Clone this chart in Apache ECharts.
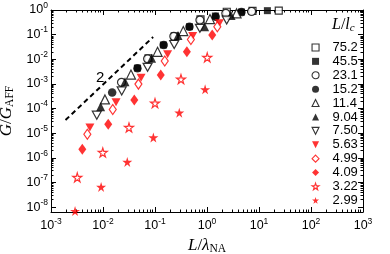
<!DOCTYPE html>
<html><head><meta charset="utf-8">
<script src="https://cdn.jsdelivr.net/npm/echarts@6/dist/echarts.min.js"></script>
<style>html,body{margin:0;padding:0;background:#fff}#c{width:390px;height:254px}</style>
</head><body><div id="c"></div>
<script>
// ---- data ----
const seriesNames = ['75.2','45.5','23.1','15.2','11.4','9.04','7.50','5.63','4.99','4.09','3.22','2.99'];
const x75_2 = [0.075, 0.24, 0.75, 2.4, 7.5, 24];
const y75_2 = [1.1e-2, 8.5e-2, 0.42, 0.85, 0.92, 0.94];
const x45_5 = [0.046, 0.145, 0.46, 1.45, 4.6, 14.5];
const y45_5 = [4.4e-3, 3.8e-2, 0.21, 0.57, 0.83, 0.94];
const x23_1 = [0.0227, 0.072, 0.23, 0.73, 2.3, 7.2];
const y23_1 = [1.16e-3, 1.04e-2, 8.5e-2, 0.39, 0.73, 0.87];
const x15_2 = [0.015, 0.046, 0.147, 0.46, 1.47, 4.6];
const y15_2 = [4.5e-4, 4.3e-3, 3.8e-2, 0.21, 0.53, 0.82];
const x11_4 = [0.0109, 0.0345, 0.112, 0.35, 1.14, 3.7];
const y11_4 = [2.34e-4, 2.4e-3, 2.0e-2, 0.14, 0.43, 0.73];
const x9_04 = [0.009, 0.0265, 0.086, 0.277, 0.9, 2.9];
const y9_04 = [1.17e-4, 1.22e-3, 1.1e-2, 9.2e-2, 0.21, 0.6];
const x7_50 = [7.6e-3, 2.29e-2, 7.2e-2, 0.234, 0.73, 2.39];
const y7_50 = [5.4e-5, 5.2e-4, 4.7e-3, 3.96e-2, 0.18, 0.39];
const x5_63 = [5.6e-3, 1.78e-2, 5.4e-2, 0.175, 0.53, 1.73];
const y5_63 = [1.7e-5, 1.79e-4, 1.77e-3, 1.58e-2, 8.8e-2, 0.29];
const x4_99 = [5.0e-3, 1.54e-2, 4.8e-2, 0.154, 0.49, 1.58];
const y4_99 = [9.1e-6, 9.2e-5, 9.8e-4, 8.5e-3, 6.3e-2, 0.21];
const x4_09 = [4.0e-3, 1.26e-2, 4.0e-2, 0.129, 0.41, 1.26];
const y4_09 = [2.24e-6, 2.3e-5, 2.2e-4, 2.28e-3, 2.0e-2, 9.6e-2];
const x3_22 = [3.2e-3, 9.9e-3, 3.16e-2, 0.1, 0.316, 1.01];
const y3_22 = [1.6e-7, 1.64e-6, 1.7e-5, 1.66e-4, 1.57e-3, 1.19e-2];
const x2_99 = [2.9e-3, 9.2e-3, 2.93e-2, 9.3e-2, 0.293, 0.92];
const y2_99 = [6.9e-9, 6.6e-8, 6.8e-7, 6.7e-6, 6.8e-5, 6.0e-4];
const slopeX = [1.9e-3, 0.092];
const slopeY = [3.4e-5, 0.08];
const slopeLabel = '2';
const xTickValues = [1e-3, 1e-2, 1e-1, 1, 10, 100, 1000];
const yTickValues = [1e-8, 1e-7, 1e-6, 1e-5, 1e-4, 1e-3, 1e-2, 1e-1, 1];

// ---- helpers ----
const SANS = '"Liberation Sans", Arial, sans-serif';
const SERIF = '"Liberation Serif", "DejaVu Serif", serif';
const XMIN = 0.00099999, XMAX = 1000.0001, YMIN = Math.pow(10, -8.2), YMAX = 1.00001;
function minorsOf(majors) {
  const out = [];
  for (let i = 0; i < majors.length - 1; i++) for (let m = 2; m <= 9; m++) out.push(majors[i] * m);
  return out;
}
const xMinor = minorsOf(xTickValues), yMinor = minorsOf(yTickValues);
function expLabel(v) {
  const e = Math.round(Math.log10(v));
  return '{b|10}{s|' + (e < 0 ? '-' + (-e) : e) + '}';
}
const labelRich = {
  b: { fontSize: 12.5, fontFamily: SANS, color: '#000' },
  s: { fontSize: 8.5, fontFamily: SANS, color: '#000', padding: [0, 0, 9, 0] }
};
const nameRich = {
  i: { fontSize: 17, fontFamily: SERIF, fontStyle: 'italic', color: '#000' },
  r: { fontSize: 17, fontFamily: SERIF, color: '#000' },
  sub: { fontSize: 11.5, fontFamily: SERIF, color: '#000', padding: [7, 0, 0, 0] }
};
function axis(kind, pos, major, extra) {
  const isX = kind === 'x';
  const a = {
    type: 'log', logBase: 10, gridIndex: 0, position: pos,
    min: isX ? XMIN : YMIN, max: isX ? XMAX : YMAX,
    splitLine: { show: false },
    axisLine: { show: major, onZero: false, lineStyle: { color: '#000', width: 1 } },
    axisTick: { show: true, inside: true, length: major ? 5 : 2.5,
      customValues: major ? (isX ? xTickValues : yTickValues) : (isX ? xMinor : yMinor),
      lineStyle: { color: '#000', width: 1 } },
    axisLabel: { show: false },
    minorTick: { show: false }
  };
  return Object.assign(a, extra || {});
}
const xAxes = [
  axis('x', 'bottom', true, {
    axisLabel: { show: true, customValues: xTickValues, formatter: expLabel, margin: 5, rich: labelRich },
    name: '{i|L}{r|/}{i|λ}{sub|NA}', nameLocation: 'middle', nameGap: 20, nameTextStyle: { rich: nameRich }
  }),
  axis('x', 'bottom', false),
  axis('x', 'top', true),
  axis('x', 'top', false)
];
const yAxes = [
  axis('y', 'left', true, {
    axisLabel: { show: true, customValues: yTickValues, formatter: expLabel, margin: 3, rich: labelRich },
    name: '{i|G}{r|/}{i|G}{sub|AFF}', nameLocation: 'middle', nameGap: 28, nameTextStyle: { rich: nameRich }
  }),
  axis('y', 'left', false),
  axis('y', 'right', true),
  axis('y', 'right', false)
];
const STAR = 'path://M50,0 L61,35 L98,35 L68,57 L79,91 L50,70 L21,91 L32,57 L2,35 L39,35 Z';
const DOWN = 'path://M0,0 L10,0 L5,10 Z';
const BLACK = '#000', RED = '#ff0000';
const styles = {
  '75.2': { symbol: 'rect', size: 7, color: BLACK, open: true },
  '45.5': { symbol: 'rect', size: 7, color: BLACK, open: false },
  '23.1': { symbol: 'circle', size: 8, color: BLACK, open: true },
  '15.2': { symbol: 'circle', size: 8.5, color: BLACK, open: false },
  '11.4': { symbol: 'triangle', size: 9, color: BLACK, open: true },
  '9.04': { symbol: 'triangle', size: 9, color: BLACK, open: false },
  '7.50': { symbol: DOWN, size: [9, 8], color: BLACK, open: true },
  '5.63': { symbol: DOWN, size: [9, 8], color: RED, open: false },
  '4.99': { symbol: 'diamond', size: [7, 10], color: RED, open: true },
  '4.09': { symbol: 'diamond', size: [8, 11], color: RED, open: false },
  '3.22': { symbol: STAR, size: 9, color: RED, open: true },
  '2.99': { symbol: STAR, size: 10, color: RED, open: false }
};
const dataX = [x75_2, x45_5, x23_1, x15_2, x11_4, x9_04, x7_50, x5_63, x4_99, x4_09, x3_22, x2_99];
const dataY = [y75_2, y45_5, y23_1, y15_2, y11_4, y9_04, y7_50, y5_63, y4_99, y4_09, y3_22, y2_99];
const series = seriesNames.map((n, i) => {
  const s = styles[n];
  return {
    type: 'scatter', name: n, xAxisIndex: 0, yAxisIndex: 0,
    symbol: s.symbol, symbolSize: s.size,
    itemStyle: s.open ? { color: '#fff', borderColor: s.color, borderWidth: 1.2 } : { color: s.color, borderWidth: 0 },
    data: dataX[i].map((x, j) => [x, dataY[i][j]]),
    z: 3
  };
});
series.push({
  type: 'line', name: 'slope', xAxisIndex: 0, yAxisIndex: 0,
  data: slopeX.map((x, j) => [x, slopeY[j]]),
  showSymbol: false, symbol: 'none', silent: true,
  lineStyle: { color: '#000', width: 2, type: [5, 3.5] }, z: 2
});

const chart = echarts.init(document.getElementById('c'), null, { renderer: 'canvas' });
chart.setOption({
  animation: false,
  backgroundColor: '#fff',
  grid: { left: 51, right: 27, top: 10, bottom: 42, containLabel: false, outerBoundsMode: 'none' },
  xAxis: xAxes,
  yAxis: yAxes,
  legend: {
    data: seriesNames, orient: 'vertical', left: 311.5, top: 40.5, padding: 0,
    itemWidth: 7, itemHeight: 7, itemGap: 0, selectedMode: false,
    itemStyle: { borderWidth: 1.1 },
    textStyle: { fontSize: 13, lineHeight: 13.9, fontFamily: SANS, color: '#000', padding: [0, 0, 0, 8.5] }
  },
  title: {
    text: '{i|L}{r|/}{i|l}{sub|c}', left: 332, top: 16, padding: 0,
    textStyle: { fontWeight: 'normal', rich: {
      i: { fontSize: 16, fontFamily: SERIF, fontStyle: 'italic', fontWeight: 'normal', color: '#000' },
      r: { fontSize: 16, fontFamily: SERIF, fontWeight: 'normal', color: '#000' },
      sub: { fontSize: 11, fontFamily: SERIF, fontStyle: 'italic', fontWeight: 'normal', color: '#000', padding: [7, 0, 0, 0] }
    } }
  },
  graphic: [{ type: 'text', left: 96, top: 70, style: { text: slopeLabel, fontSize: 15, fontFamily: SANS, fill: '#000' } }],
  series: series
});
</script></body></html>
